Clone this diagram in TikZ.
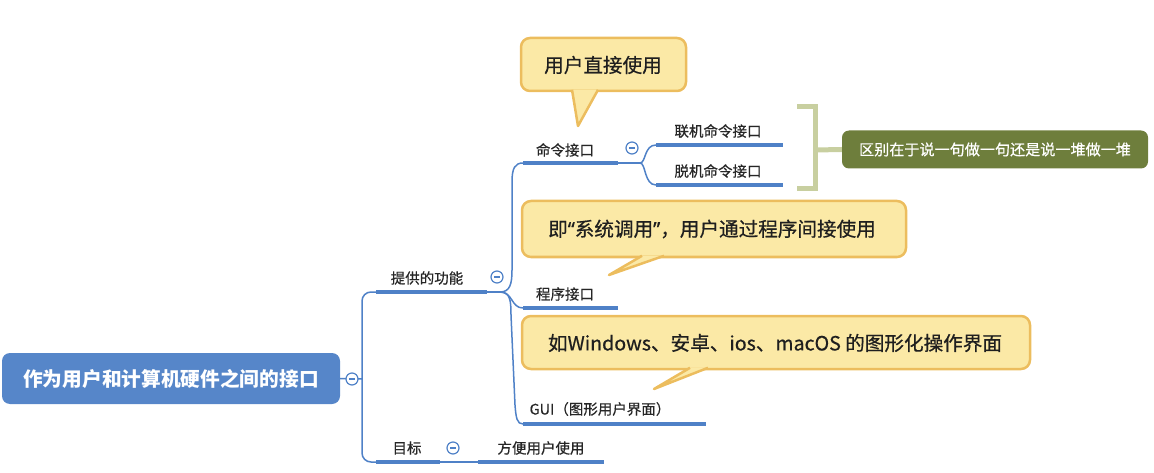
\documentclass[tikz,border=0pt]{standalone}
\usepackage{fontspec}
\setmainfont{Noto Sans CJK SC}
\newfontfamily\cjk{Noto Sans CJK SC}
\newfontfamily\cjkm[FakeBold=0.6]{Noto Sans CJK SC}
\newfontfamily\latq[FakeBold=0.6]{Noto Sans}
\definecolor{lineblue}{HTML}{4F81C7}
\definecolor{rootblue}{HTML}{5686C9}
\definecolor{calfill}{HTML}{FBE9A6}
\definecolor{caldraw}{HTML}{ECBD5E}
\definecolor{grnfill}{HTML}{6E7E3C}
\definecolor{brk}{HTML}{C8CFA0}
\begin{document}
\begin{tikzpicture}[x=1pt,y=-1pt,
  conn/.style={draw=lineblue, line width=1.5pt},
  uline/.style={draw=lineblue, line width=3.5pt},
  lab/.style={font=\cjkm\fontsize{14.5}{16}\selectfont, text=black!85, inner sep=0pt},
  ctext/.style={font=\cjkm\fontsize{19.6}{22}\selectfont, text=black!88, inner sep=0pt},
  tog/.style={circle, draw=lineblue, fill=white, line width=1.2pt, minimum size=12pt, inner sep=0pt},
  callbox/.style={fill=calfill, draw=caldraw, line width=2.5pt, rounded corners=9pt},
  callptr/.style={fill=calfill, draw=caldraw, line width=2.5pt, line join=round},
]
\useasboundingbox (0,0) rectangle (1154,473);

% root
\node[fill=rootblue, rounded corners=8pt, minimum width=338pt, minimum height=51pt, inner sep=0pt,
  text=white, font=\cjk\bfseries\fontsize{19.7}{22}\selectfont] (root) at (171,378.5) {作为用户和计算机硬件之间的接口};

% level 1 connectors
\coordinate (j0) at (362,379);
\draw[conn] (root.east) -- (j0);
\draw[conn, rounded corners=9pt] (378,292) -- (362,292) -- (362,462) -- (378,462);

% 提供的功能
\node[lab] (f) at (427,278) {提供的功能};
\coordinate (fL) at (376,292); \coordinate (fR) at (487,292);
\draw[uline] (fL) -- (fR);
\coordinate (j1) at (500,292);
\draw[conn] (fR) -- (j1);

% 目标
\node[lab] (g) at (407,448) {目标};
\coordinate (gL) at (376,462); \coordinate (gR) at (440,462);
\draw[uline] (gL) -- (gR);
\node[lab] (g1) at (541,448) {方便用户使用};
\coordinate (g1L) at (478,462); \coordinate (g1R) at (604,462);
\draw[conn] (gR) -- (g1L);
\draw[uline] (g1L) -- (g1R);

% level 2 connectors
\coordinate (cL) at (523,163); \coordinate (cR) at (618,163);
\coordinate (pL) at (523,308); \coordinate (pR) at (618,308);
\coordinate (uL) at (523,424); \coordinate (uR) at (706,424);
\draw[conn] (j1) .. controls (510,292) and (512,284) .. (512,270) -- (512,182) .. controls (512,168) and (515,163) .. (cL);
\draw[conn] (j1) .. controls (513,292) and (511,308) .. (pL);
\draw[conn] (j1) .. controls (510,292) and (511,300) .. (511,315) -- (515,405) .. controls (516,418) and (517,424) .. (uL);

\draw[uline] (cL) -- (cR);
\draw[uline] (pL) -- (pR);
\draw[uline] (uL) -- (uR);
\node[lab] (c) at (565,150) {命令接口};
\node[lab] (p) at (565,294) {程序接口};
\node[lab] (u) at (600,409) {GUI（图形用户界面）};

% 命令接口 children
\coordinate (j2) at (640,163);
\coordinate (aL) at (656,145); \coordinate (aR) at (783,145);
\coordinate (bL) at (656,185); \coordinate (bR) at (783,185);
\draw[conn] (cR) -- (j2);
\draw[conn] (j2) .. controls (646,163) and (644,145) .. (aL);
\draw[conn] (j2) .. controls (646,163) and (644,185) .. (bL);
\draw[uline] (aL) -- (aR);
\draw[uline] (bL) -- (bR);
\node[lab] (a) at (718,131) {联机命令接口};
\node[lab] (b) at (718,171) {脱机命令接口};

% toggles
\node[tog] (t0) at (352,379) {};
\draw[lineblue, line width=1.2pt] ([xshift=-3pt]t0.center) -- ([xshift=3pt]t0.center);
\node[tog] (t1) at (497,277) {};
\draw[lineblue, line width=1.2pt] ([xshift=-3pt]t1.center) -- ([xshift=3pt]t1.center);
\node[tog] (t2) at (632,148) {};
\draw[lineblue, line width=1.2pt] ([xshift=-3pt]t2.center) -- ([xshift=3pt]t2.center);
\node[tog] (t3) at (453,448) {};
\draw[lineblue, line width=1.2pt] ([xshift=-3pt]t3.center) -- ([xshift=3pt]t3.center);

% bracket + summary
\draw[brk, line width=5pt] (797,107) -- (815,107) -- (815,189) -- (797,189);
\coordinate (bm) at (815,150);
\node[fill=grnfill, rounded corners=7pt, minimum width=306pt, minimum height=38pt, inner sep=0pt,
  text=white, font=\cjkm\fontsize{15.1}{17}\selectfont] (s) at (995,149.5) {区别在于说一句做一句还是说一堆做一堆};
\draw[brk, line width=5pt] (bm) -- (s.west);

% callout 1
\draw[callbox] (521,38) rectangle (686,91);
\draw[callptr] (572,89.8) -- (578,126) -- (598,89.8);
\node[ctext] (k1) at (603,65) {用户直接使用};

% callout 2
\draw[callbox] (522,201) rectangle (906,257);
\draw[callptr] (642,255.8) -- (609,275) -- (664,255.8);
\node[ctext] (k2) at (712,229) {即{\latq“}系统调用{\latq”}，用户通过程序间接使用};

% callout 3
\draw[callbox] (522,316) rectangle (1030,369);
\draw[callptr] (690,367.8) -- (654,389) -- (708,367.8);
\node[ctext] (k3) at (775,343) {如Windows、安卓、ios、macOS 的图形化操作界面};
\end{tikzpicture}
\end{document}
